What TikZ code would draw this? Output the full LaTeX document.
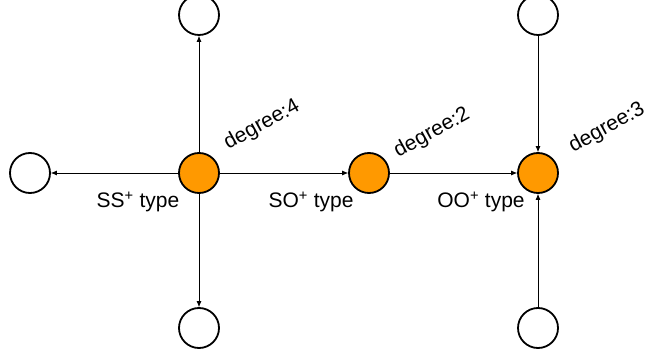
\documentclass[tikz,border=0pt]{standalone}
\usepackage{fontspec}
\setmainfont{Liberation Sans}
\usepackage{xcolor}
\usetikzlibrary{arrows.meta}

\definecolor{nodeorange}{RGB}{255,153,0}

\tikzset{
  hub/.style={circle, draw=black, line width=1.8pt, fill=nodeorange, minimum size=40pt, inner sep=0pt},
  leaf/.style={circle, draw=black, line width=1.8pt, fill=white, minimum size=40pt, inner sep=0pt},
  link/.style={-{Latex[length=6pt,width=5pt]}, line width=0.7pt},
  lbl/.style={font=\fontsize{21}{25}\selectfont, inner sep=0pt}
}

\begin{document}
\begin{tikzpicture}[x=1pt,y=1pt]
      \useasboundingbox (0,0) rectangle (647,356);
      % Centre nodes
      \node[hub] (a) at (199,183) {};
      \node[hub] (b) at (369,183) {};
      \node[hub] (c) at (538,183) {};
      % Outer nodes
      \node[leaf] (l) at (30,183) {};
      \node[leaf] (ta) at (199,341) {};
      \node[leaf] (ba) at (199,28) {};
      \node[leaf] (tc) at (538,341) {};
      \node[leaf] (bc) at (538,28) {};
      % Edges
      \draw[link] (a) -- (l);
      \draw[link] (a) -- (ta);
      \draw[link] (a) -- (ba);
      \draw[link] (a) -- (b);
      \draw[link] (b) -- (c);
      \draw[link] (tc) -- (c);
      \draw[link] (bc) -- (c);
      % Labels
      \node[lbl, rotate=29] (da) at (262,231) {degree:4};
      \node[lbl, rotate=29] (db) at (432,223) {degree:2};
      \node[lbl, rotate=29] (dc) at (607,228) {degree:3};
      \node[lbl] (ss) at (138,154) {SS\textsuperscript{+} type};
      \node[lbl] (so) at (311,154) {SO\textsuperscript{+} type};
      \node[lbl] (oo) at (481,154) {OO\textsuperscript{+} type};
    \end{tikzpicture}
\end{document}
